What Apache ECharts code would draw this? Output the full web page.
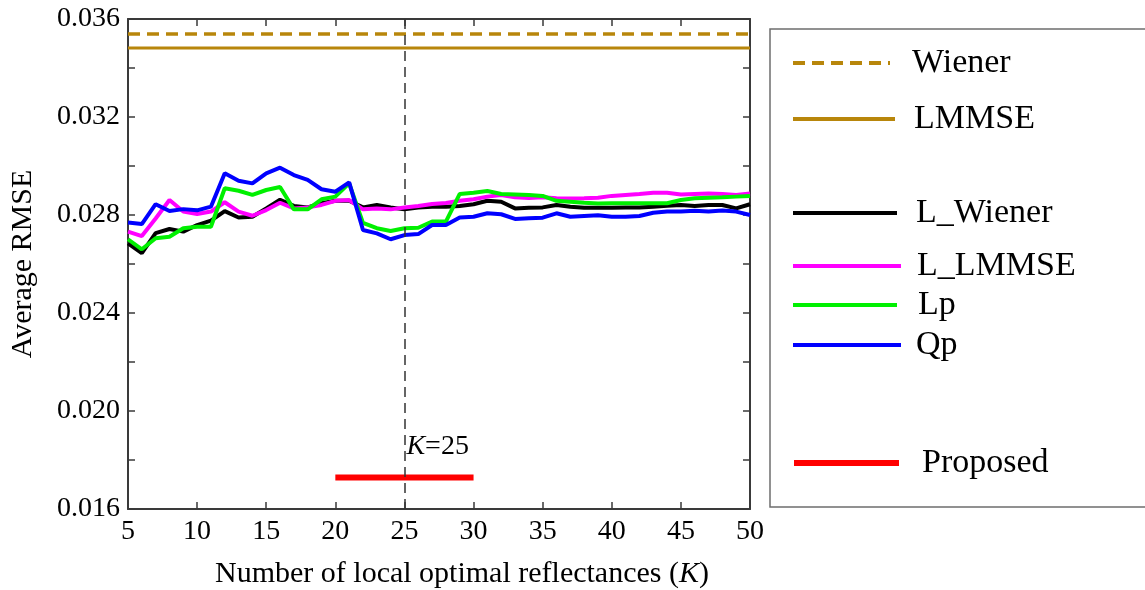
<!DOCTYPE html>
<html>
<head>
<meta charset="utf-8">
<title>Average RMSE vs K</title>
<script src="https://cdn.jsdelivr.net/npm/echarts@6/dist/echarts.min.js"></script>
<style>
  html, body { margin: 0; padding: 0; background: #fff; }
  #chart { width: 1145px; height: 590px; }
</style>
</head>
<body>
<div id="chart"></div>
<script>
// Number of local optimal reflectances
const kValues = [5, 6, 7, 8, 9, 10, 11, 12, 13, 14, 15, 16, 17, 18, 19, 20, 21, 22, 23, 24, 25, 26, 27,
  28, 29, 30, 31, 32, 33, 34, 35, 36, 37, 38, 39, 40, 41, 42, 43, 44, 45, 46, 47, 48, 49, 50];

// Average RMSE of the local methods for each K
const lWiener = [0.02684, 0.02644, 0.02726, 0.02743, 0.02732, 0.02759, 0.02777, 0.02816, 0.02790, 0.02793,
  0.02827, 0.02862, 0.02837, 0.02831, 0.02848, 0.02858, 0.02858, 0.02831, 0.02841, 0.02831, 0.02823,
  0.02831, 0.02834, 0.02834, 0.02837, 0.02844, 0.02858, 0.02854, 0.02827, 0.02830, 0.02831, 0.02841,
  0.02834, 0.02830, 0.02830, 0.02830, 0.02831, 0.02831, 0.02834, 0.02838, 0.02841, 0.02837, 0.02841,
  0.02841, 0.02827, 0.02844];
const lLmmse = [0.02732, 0.02714, 0.02786, 0.02861, 0.02814, 0.02804, 0.02814, 0.02852, 0.02814, 0.02797,
  0.02820, 0.02850, 0.02827, 0.02831, 0.02841, 0.02858, 0.02861, 0.02823, 0.02827, 0.02823, 0.02831,
  0.02837, 0.02845, 0.02849, 0.02858, 0.02864, 0.02875, 0.02882, 0.02872, 0.02869, 0.02872, 0.02868,
  0.02867, 0.02868, 0.02870, 0.02878, 0.02882, 0.02886, 0.02891, 0.02891, 0.02884, 0.02886, 0.02888,
  0.02886, 0.02882, 0.02888];
const lp = [0.02701, 0.02660, 0.02705, 0.02711, 0.02746, 0.02752, 0.02752, 0.02909, 0.02899, 0.02882,
  0.02902, 0.02914, 0.02823, 0.02823, 0.02864, 0.02875, 0.02929, 0.02768, 0.02746, 0.02735, 0.02746,
  0.02748, 0.02773, 0.02773, 0.02886, 0.02891, 0.02898, 0.02886, 0.02884, 0.02882, 0.02878, 0.02858,
  0.02854, 0.02850, 0.02847, 0.02848, 0.02848, 0.02848, 0.02848, 0.02848, 0.02861, 0.02868, 0.02870,
  0.02872, 0.02875, 0.02878];
const qp = [0.02769, 0.02763, 0.02844, 0.02816, 0.02824, 0.02819, 0.02834, 0.02970, 0.02940, 0.02929,
  0.02970, 0.02993, 0.02963, 0.02943, 0.02905, 0.02895, 0.02933, 0.02739, 0.02725, 0.02701, 0.02718,
  0.02722, 0.02759, 0.02759, 0.02790, 0.02793, 0.02807, 0.02803, 0.02784, 0.02787, 0.02789, 0.02807,
  0.02793, 0.02796, 0.02799, 0.02793, 0.02793, 0.02796, 0.02809, 0.02814, 0.02814, 0.02817, 0.02814,
  0.02818, 0.02814, 0.02800];

// Global methods do not depend on K
const wienerRmse = 0.03539;
const lmmseRmse = 0.03482;

// Proposed method: range of K and its RMSE
const proposedK = [20, 30];
const proposedRmse = 0.01729;
const chosenK = 25;
const chosenLabelY = 0.01853;

// Axis ticks
const xTicks = [5, 10, 15, 20, 25, 30, 35, 40, 45, 50];
const yMin = 0.016, yMax = 0.036, yStep = 0.002, yLabelStep = 0.004;

const SERIF = "'Liberation Serif', 'Times New Roman', serif";
const GOLD = '#B8860B';

const pair = (xs, ys) => xs.map((x, i) => [x, ys[i]]);
const flat = (v) => [[xTicks[0], v], [xTicks[xTicks.length - 1], v]];

function lineSeries(name, data, color, width, type) {
  return {
    name, type: 'line', data, symbol: 'none', silent: true,
    lineStyle: { color, width, type: type || 'solid' },
    itemStyle: { color },
    emphasis: { disabled: true },
    animation: false,
    z: 3
  };
}

const axisColor = '#3a3a3a';
const tickStyle = { show: true, inside: true, length: 7, lineStyle: { color: axisColor, width: 1.5 } };

const chart = echarts.init(document.getElementById('chart'), null, { renderer: 'canvas' });

// One legend block per entry so each row sits at its own height
const legendItem = (name, cy, width, lineW, textX) => ({
  data: [name],
  left: 791,
  top: cy - 19,
  padding: 0,
  itemWidth: width,
  itemHeight: 14,
  selectedMode: false,
  itemStyle: { opacity: 0 },
  lineStyle: { width: lineW },
  textStyle: {
    fontFamily: SERIF, fontSize: 34, color: '#000', lineHeight: 38,
    padding: [0, 0, 0, textX - (791 + width + 5)]
  }
});

const option = {
  backgroundColor: '#fff',
  animation: false,
  grid: { left: 128, top: 19, width: 622, height: 490, containLabel: false, outerBoundsMode: 'none' },
  xAxis: [{
    type: 'value', min: xTicks[0], max: xTicks[xTicks.length - 1], interval: 5,
    position: 'bottom',
    axisLine: { show: true, onZero: false, lineStyle: { color: axisColor, width: 2 } },
    axisTick: tickStyle,
    splitLine: { show: false },
    axisLabel: { fontFamily: SERIF, fontSize: 28, color: '#000', margin: 9 },
    name: 'Number of local optimal reflectances ({k|K})',
    nameLocation: 'middle',
    nameGap: 50,
    nameTextStyle: {
      fontFamily: SERIF, fontSize: 30, color: '#000', padding: [0, 0, 0, 46],
      rich: { k: { fontFamily: SERIF, fontSize: 30, fontStyle: 'italic', color: '#000' } }
    }
  }, {
    type: 'value', min: xTicks[0], max: xTicks[xTicks.length - 1], interval: 5,
    position: 'top',
    axisLine: { show: true, onZero: false, lineStyle: { color: axisColor, width: 2 } },
    axisTick: tickStyle,
    splitLine: { show: false },
    axisLabel: { show: false }
  }],
  yAxis: [{
    type: 'value', min: yMin, max: yMax, interval: yStep,
    position: 'left',
    axisLine: { show: true, onZero: false, lineStyle: { color: axisColor, width: 2 } },
    axisTick: tickStyle,
    splitLine: { show: false },
    axisLabel: {
      fontFamily: SERIF, fontSize: 28, color: '#000', margin: 8,
      formatter: (v) => {
        const steps = Math.round((v - yMin) / yStep);
        const per = Math.round(yLabelStep / yStep);
        return steps % per === 0 ? v.toFixed(3) : '';
      }
    },
    name: 'Average RMSE',
    nameLocation: 'middle',
    nameGap: 90,
    nameTextStyle: { fontFamily: SERIF, fontSize: 30, color: '#000' }
  }, {
    type: 'value', min: yMin, max: yMax, interval: yStep,
    position: 'right',
    axisLine: { show: true, onZero: false, lineStyle: { color: axisColor, width: 2 } },
    axisTick: tickStyle,
    splitLine: { show: false },
    axisLabel: { show: false }
  }],
  legend: [
    legendItem('Wiener', 63, 97, 4, 910),
    legendItem('LMMSE', 119, 102, 4, 912),
    legendItem('L_Wiener', 213, 104, 4, 914),
    legendItem('L_LMMSE', 266, 108, 4, 915),
    legendItem('Lp', 305, 104, 4, 916),
    legendItem('Qp', 345, 108, 4, 914),
    legendItem('Proposed', 463, 105, 6, 919)
  ],
  graphic: [{
    type: 'rect',
    silent: true,
    shape: { x: 770, y: 29, width: 420, height: 478 },
    style: { fill: 'none', stroke: '#6e6e6e', lineWidth: 1.5 },
    z: 1
  }],
  series: [
    lineSeries('Wiener', flat(wienerRmse), GOLD, 3.5, [12, 7]),
    lineSeries('LMMSE', flat(lmmseRmse), GOLD, 3),
    lineSeries('L_Wiener', pair(kValues, lWiener), '#000000', 4),
    lineSeries('L_LMMSE', pair(kValues, lLmmse), '#FF00FF', 4),
    lineSeries('Lp', pair(kValues, lp), '#00F000', 4),
    lineSeries('Qp', pair(kValues, qp), '#0000FF', 4),
    Object.assign(lineSeries('Proposed', proposedK.map((k) => [k, proposedRmse]), '#FF0000', 6), {
      markLine: {
        silent: true,
        symbol: ['none', 'none'],
        animation: false,
        label: { show: false },
        lineStyle: { color: '#333', width: 1.5, type: [10, 6] },
        emphasis: { disabled: true },
        data: [{ xAxis: chosenK }]
      },
      markPoint: {
        silent: true,
        symbol: 'circle',
        symbolSize: 0,
        animation: false,
        data: [{ coord: [chosenK, chosenLabelY], value: chosenK }],
        label: {
          show: true,
          position: 'right',
          distance: 2,
          formatter: '{k|K}=' + chosenK,
          fontFamily: SERIF, fontSize: 28, color: '#000',
          rich: { k: { fontFamily: SERIF, fontSize: 28, fontStyle: 'italic', color: '#000' } }
        }
      }
    })
  ]
};

chart.setOption(option);
</script>
</body>
</html>
